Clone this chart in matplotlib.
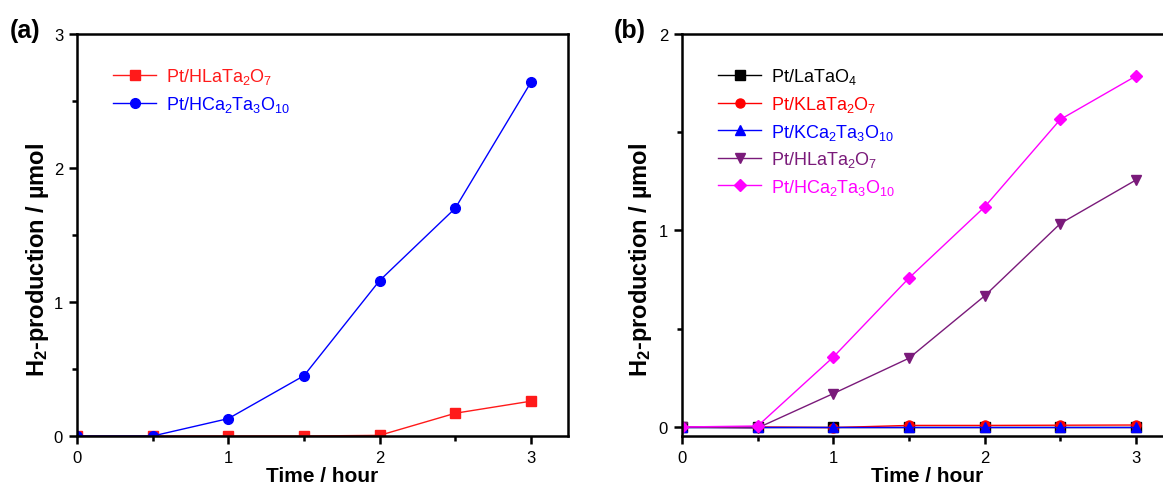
import matplotlib
matplotlib.use("Agg")
import matplotlib.pyplot as plt
from matplotlib.ticker import MultipleLocator

plt.rcParams['font.family'] = ['Liberation Sans', 'DejaVu Sans']
plt.rcParams['mathtext.fontset'] = 'custom'
plt.rcParams['mathtext.rm'] = 'Liberation Sans'
plt.rcParams['mathtext.bf'] = 'Liberation Sans:bold'
plt.rcParams['mathtext.default'] = 'regular'

time_h = [0, 0.5, 1, 1.5, 2, 2.5, 3]

# panel (a)
a_hlata2o7 = [0, 0, 0, 0, 0.005, 0.17, 0.26]
a_hca2ta3o10 = [0, 0, 0.13, 0.45, 1.16, 1.70, 2.64]

# panel (b)
b_lataO4 = [0, 0, 0, 0, 0, 0, 0]
b_klata2o7 = [0, 0, -0.003, 0.008, 0.008, 0.009, 0.01]
b_kca2ta3o10 = [0, 0, 0, 0, 0, 0, 0]
b_hlata2o7 = [0, -0.005, 0.17, 0.35, 0.667, 1.035, 1.257]
b_hca2ta3o10 = [0, 0.005, 0.356, 0.758, 1.12, 1.565, 1.786]

lab_a = [r'Pt/HLaTa$_2$O$_7$', r'Pt/HCa$_2$Ta$_3$O$_{10}$']
lab_b = [r'Pt/LaTaO$_4$', r'Pt/KLaTa$_2$O$_7$', r'Pt/KCa$_2$Ta$_3$O$_{10}$',
         r'Pt/HLaTa$_2$O$_7$', r'Pt/HCa$_2$Ta$_3$O$_{10}$']

fig = plt.figure(figsize=(11.63, 4.89), dpi=100)
axA = fig.add_axes([77 / 1163, 0.1063, 491 / 1163, 0.8221])
axB = fig.add_axes([682 / 1163, 0.1063, 491 / 1163, 0.8221])

RED = '#ff1a1a'
BLUE = '#0000ff'
PURPLE = '#7a1a7a'
MAG = '#ff00ff'

kw = dict(lw=1.0, ms=6.5)
axA.plot(time_h, a_hlata2o7, '-s', color=RED, label=lab_a[0], ms=6.5, lw=1.0)
axA.plot(time_h, a_hca2ta3o10, '-o', color=BLUE, label=lab_a[1], ms=7, lw=1.0)

axB.plot(time_h, b_lataO4, '-s', color='black', label=lab_b[0], **kw)
axB.plot(time_h, b_klata2o7, '-o', color='red', label=lab_b[1], **kw)
axB.plot(time_h, b_kca2ta3o10, '-^', color=BLUE, label=lab_b[2], **kw)
axB.plot(time_h, b_hlata2o7, '-v', color=PURPLE, label=lab_b[3], **kw)
axB.plot(time_h, b_hca2ta3o10, '-D', color=MAG, label=lab_b[4], lw=1.0, ms=6)

axA.set_xlim(0, 3.245)
axA.set_ylim(0, 3)
axB.set_xlim(0, 3.245)
axB.set_ylim(-0.046, 2)

for ax, lx in ((axA, -0.053), (axB, -0.057)):
    ax.xaxis.set_major_locator(MultipleLocator(1))
    ax.xaxis.set_minor_locator(MultipleLocator(0.5))
    ax.yaxis.set_major_locator(MultipleLocator(1))
    ax.yaxis.set_minor_locator(MultipleLocator(0.5))
    ax.tick_params(which='major', direction='out', length=6, width=1.8, labelsize=12, pad=4)
    ax.tick_params(which='minor', direction='out', length=3.5, width=1.8)
    for s in ax.spines.values():
        s.set_linewidth(1.8)
    ax.set_xlabel('Time / hour', fontsize=15, fontweight='bold', labelpad=1)
    ax.set_ylabel(r'H$\mathbf{_2}$-production / µmol', fontsize=17, fontweight='bold')
    ax.yaxis.set_label_coords(lx, 0.44)
    leg = ax.legend(loc='upper left', bbox_to_anchor=(0.04, 0.96), frameon=False,
                    fontsize=13, handlelength=2.4, handletextpad=0.55, labelspacing=0.42)
    for txt, ln in zip(leg.get_texts(), leg.get_lines()):
        txt.set_color(ln.get_color())

fig.text(0.008, 0.937, '(a)', fontsize=18, fontweight='bold', va='center')
fig.text(0.528, 0.937, '(b)', fontsize=18, fontweight='bold', va='center')

fig.savefig('out.png', dpi=100)
